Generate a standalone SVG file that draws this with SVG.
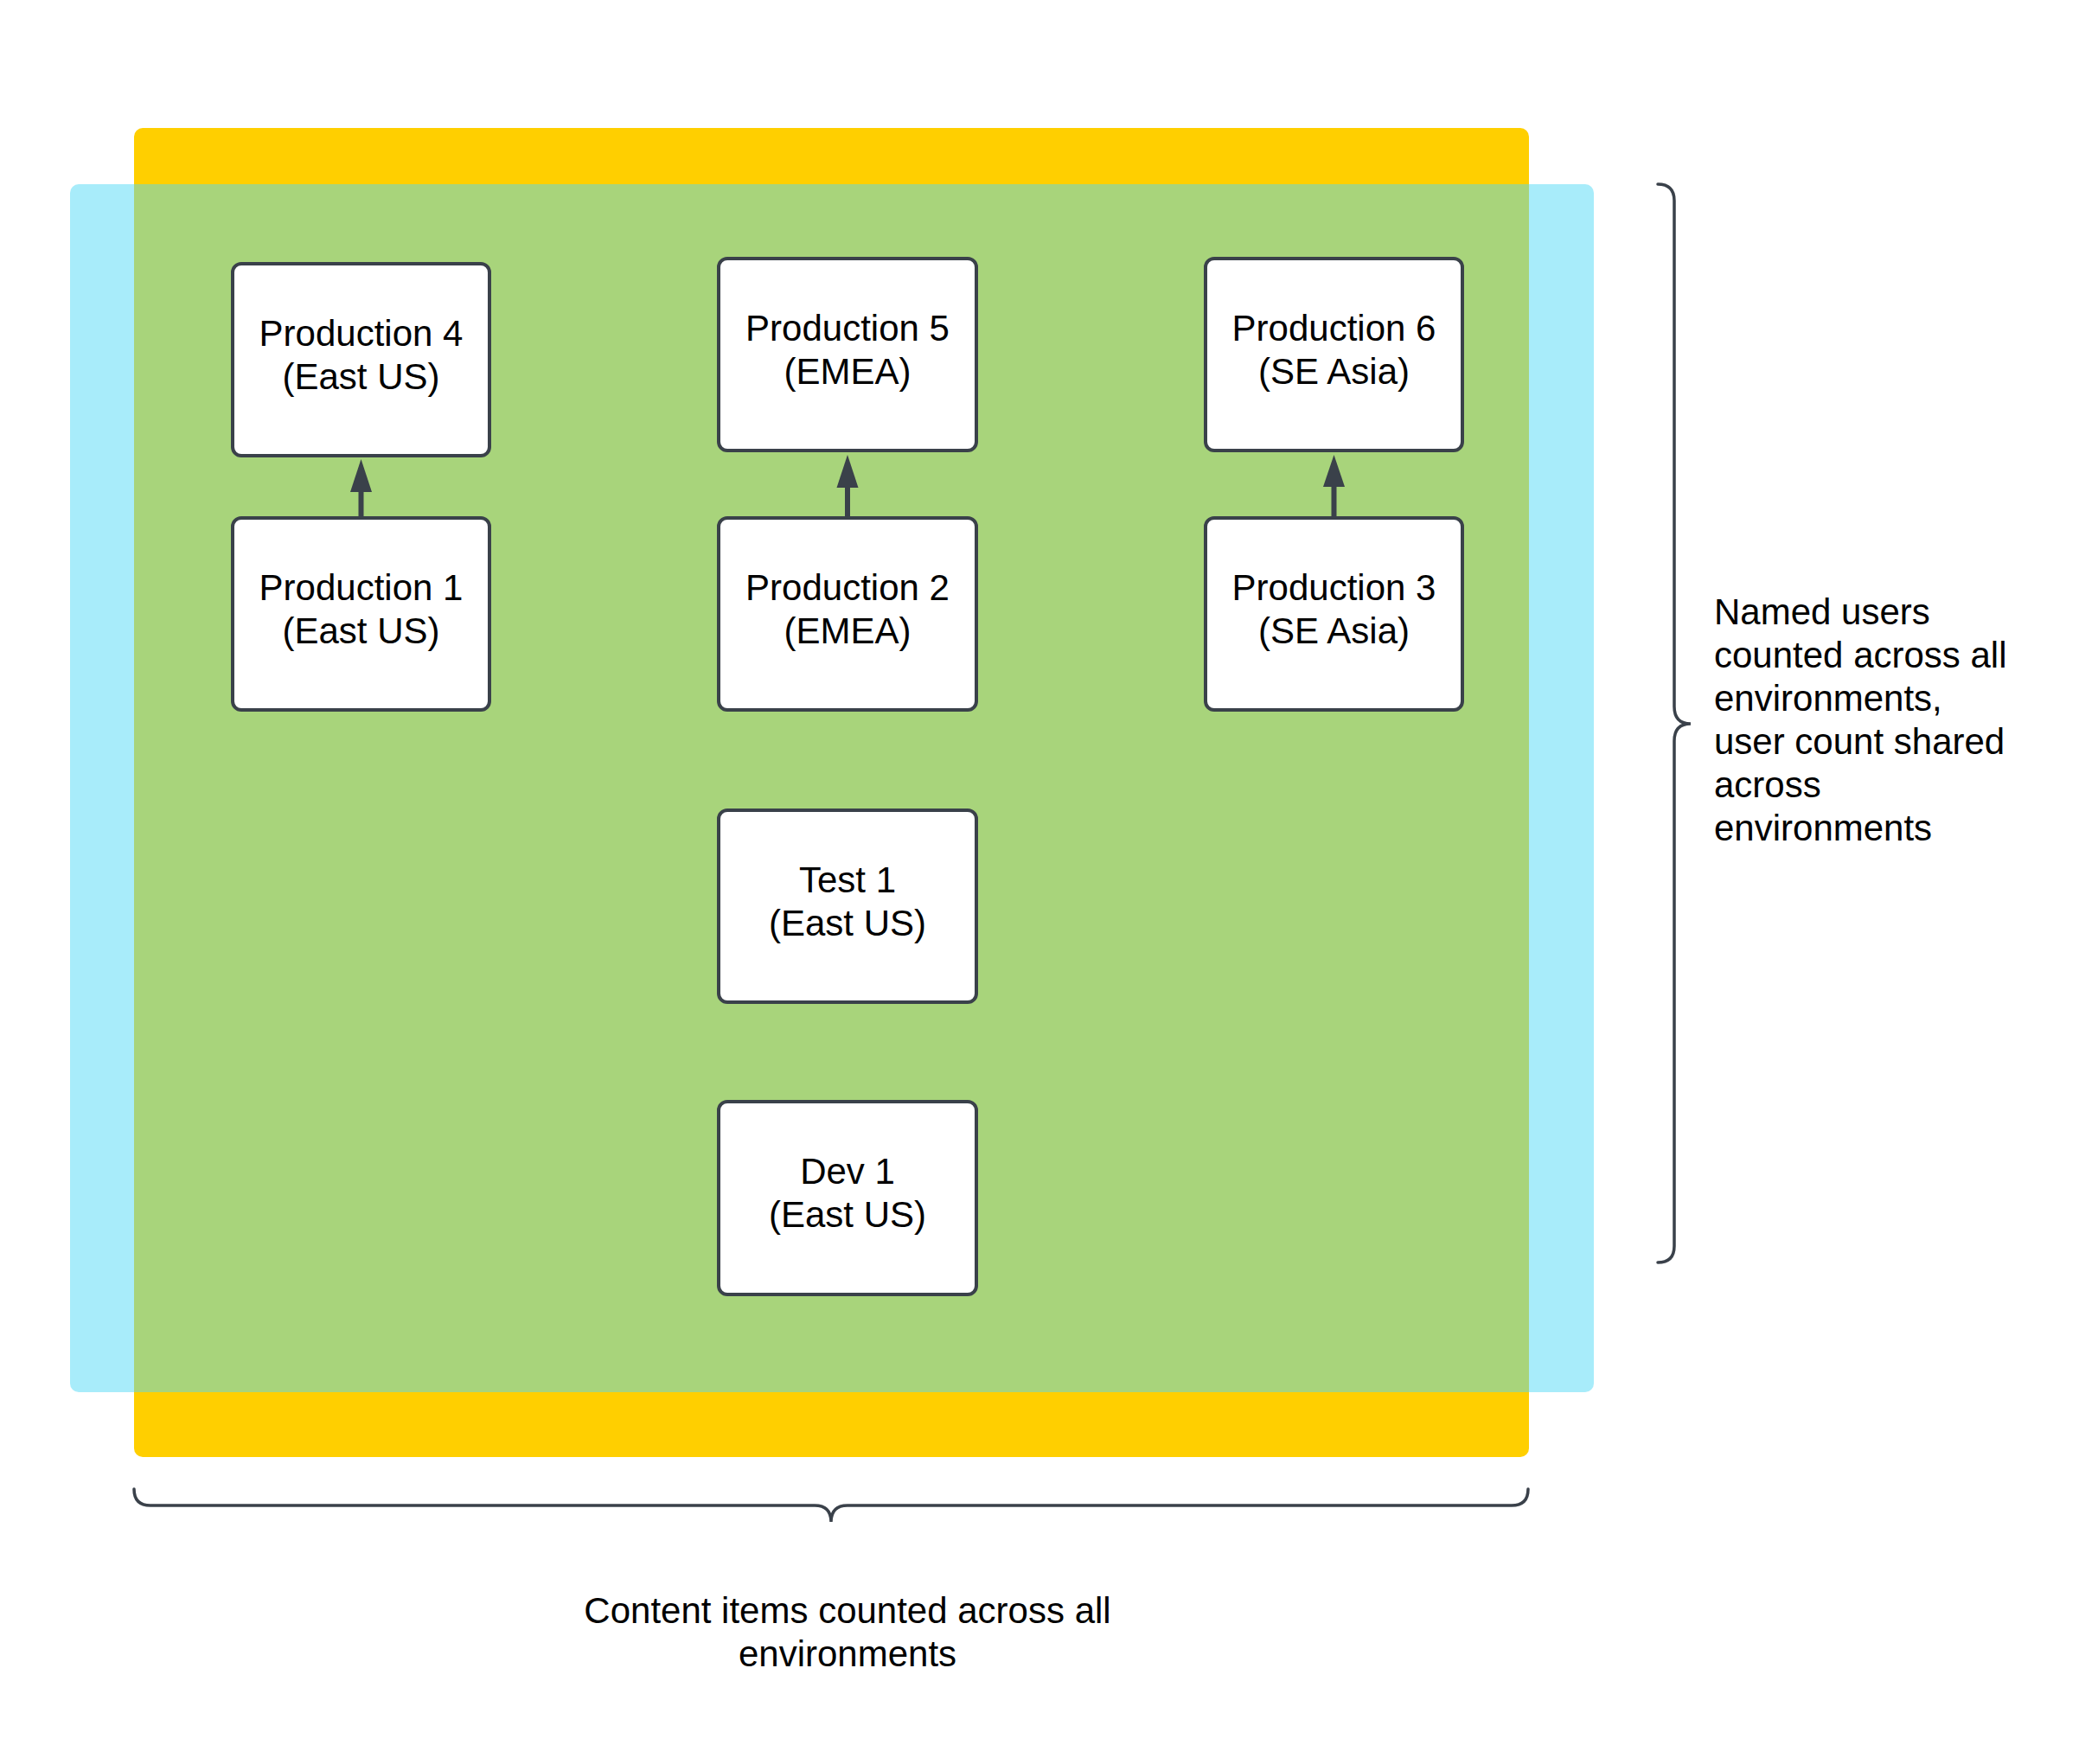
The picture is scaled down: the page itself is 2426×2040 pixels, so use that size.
<svg xmlns="http://www.w3.org/2000/svg" width="2426" height="2040" viewBox="0 0 2426 2040">
<style>
.t{font-family:"Liberation Sans",Arial,sans-serif;font-size:42px;fill:#000}
.c{text-anchor:middle}
.box{fill:#fff;stroke:#3a414a;stroke-width:4}
.ln{stroke:#3a414a;stroke-width:6;fill:none}
.hd{fill:#3a414a}
.br{stroke:#3a414a;stroke-width:3.5;fill:none;stroke-linecap:round}
</style>
<rect width="2426" height="2040" fill="#fff"/>
<g id="areas">
<rect id="content-area" x="155" y="148" width="1613" height="1537" rx="10" fill="#ffcf00"/>
<rect id="users-area" x="81" y="213" width="1762" height="1397" rx="10" fill="#52d9f5" fill-opacity="0.5"/>
</g>
<g id="connectors">
<line class="ln" x1="417.5" y1="597" x2="417.5" y2="566"/>
<polygon class="hd" points="417.5,531 430,569 405,569"/>
<line class="ln" x1="980" y1="597" x2="980" y2="561"/>
<polygon class="hd" points="980,526 992.5,564 967.5,564"/>
<line class="ln" x1="1542.5" y1="597" x2="1542.5" y2="560"/>
<polygon class="hd" points="1542.5,526 1555,563 1530,563"/>
</g>
<g id="prod4">
<rect class="box" x="269" y="305" width="297" height="222" rx="10"/>
<text class="t c" x="417.5" y="400">Production 4</text>
<text class="t c" x="417.5" y="450">(East US)</text>
</g>
<g id="prod5">
<rect class="box" x="831" y="299" width="298" height="222" rx="10"/>
<text class="t c" x="980" y="394">Production 5</text>
<text class="t c" x="980" y="444">(EMEA)</text>
</g>
<g id="prod6">
<rect class="box" x="1394" y="299" width="297" height="222" rx="10"/>
<text class="t c" x="1542.5" y="394">Production 6</text>
<text class="t c" x="1542.5" y="444">(SE Asia)</text>
</g>
<g id="prod1">
<rect class="box" x="269" y="599" width="297" height="222" rx="10"/>
<text class="t c" x="417.5" y="694">Production 1</text>
<text class="t c" x="417.5" y="744">(East US)</text>
</g>
<g id="prod2">
<rect class="box" x="831" y="599" width="298" height="222" rx="10"/>
<text class="t c" x="980" y="694">Production 2</text>
<text class="t c" x="980" y="744">(EMEA)</text>
</g>
<g id="prod3">
<rect class="box" x="1394" y="599" width="297" height="222" rx="10"/>
<text class="t c" x="1542.5" y="694">Production 3</text>
<text class="t c" x="1542.5" y="744">(SE Asia)</text>
</g>
<g id="test1">
<rect class="box" x="831" y="937" width="298" height="222" rx="10"/>
<text class="t c" x="980" y="1032">Test 1</text>
<text class="t c" x="980" y="1082">(East US)</text>
</g>
<g id="dev1">
<rect class="box" x="831" y="1274" width="298" height="223" rx="10"/>
<text class="t c" x="980" y="1369">Dev 1</text>
<text class="t c" x="980" y="1419">(East US)</text>
</g>
<g id="users-brace">
<path class="br" d="M1917,213 Q1936,213 1936,232 L1936,817 Q1936,837 1955,837 Q1936,837 1936,857 L1936,1441 Q1936,1460 1917,1460"/>
<text class="t" x="1982" y="722">Named users</text>
<text class="t" x="1982" y="772">counted across all</text>
<text class="t" x="1982" y="822">environments,</text>
<text class="t" x="1982" y="872">user count shared</text>
<text class="t" x="1982" y="922">across</text>
<text class="t" x="1982" y="972">environments</text>
</g>
<g id="content-brace">
<path class="br" d="M155,1722 Q155,1741 174,1741 L942,1741 Q961,1741 961,1760 Q961,1741 980,1741 L1748,1741 Q1767,1741 1767,1722"/>
<text class="t c" x="980" y="1877">Content items counted across all</text>
<text class="t c" x="980" y="1927">environments</text>
</g>
</svg>
